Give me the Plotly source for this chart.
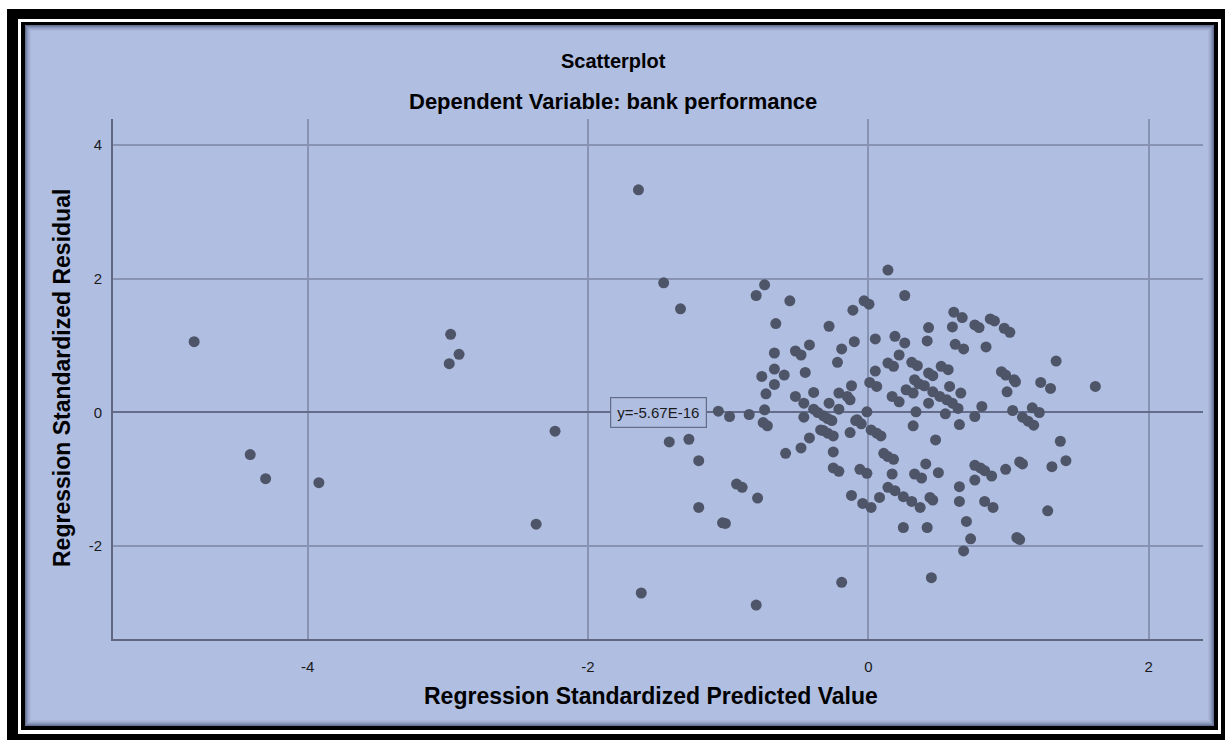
import plotly.graph_objects as go

# Regression diagnostics: standardized predicted value vs standardized residual
pred_values = [
    -4.81, -4.41, -4.30, -3.92, -2.98, -2.99, -2.92, -2.235, -2.37,
    -1.64, -1.46, -1.34, -0.74, -0.80, -0.56, -0.66, -0.42, -0.67, -0.52,
    -0.48, -0.67, -0.60, -0.76, -0.45, -0.67, -0.73, -0.52, -0.39, -0.46,
    -1.07, -0.99, -0.85, -0.74, -0.46, -0.75, -0.72, -1.42, -1.28,
    -1.21, -0.94, -0.90, -0.79, -1.21, -1.04, -1.02, -0.59, -0.48, -0.42,
    -1.62, -0.80, -0.34,
    0.97, 1.01, 1.34, 0.95, 0.98, 1.04, 1.05, 0.99, 1.23, 1.30, 1.62,
    1.03, 1.17, 1.22, 1.10, 1.14, 1.18, 1.37, 1.41, 1.31, 1.08, 1.10,
    0.98, 1.28, 1.06, 1.08,
    0.14, 0.26, -0.03, 0.005, -0.11, -0.28, -0.19, -0.10, -0.22, 0.05,
    0.19, 0.26, 0.22, 0.14, 0.18, 0.05, 0.31, 0.35, 0.43, 0.42, 0.61,
    0.67, 0.60, 0.76, 0.79, 0.87, 0.90, 0.62, 0.68, 0.84, 0.52, 0.57,
    0.43, 0.46, 0.33, 0.36, 0.40, 0.58, 0.66, 0.46, 0.51, 0.56, 0.60,
    0.64, 0.27, 0.32, 0.43, 0.17, 0.22, 0.01, 0.06, -0.12, -0.21, -0.15,
    -0.13, -0.28, -0.21, -0.01, -0.08, 0.34, 0.55, 0.76, 0.81,
    -0.39, -0.36, -0.32, -0.29, -0.26, -0.32, -0.29, -0.25, -0.13, -0.09,
    -0.05, -0.25, -0.25, -0.21, -0.06, -0.01, -0.12, -0.04, 0.02, -0.19,
    0.02, 0.06, 0.09, 0.11, 0.14, 0.18, 0.17, 0.08, 0.14, 0.19, 0.25,
    0.31, 0.37, 0.25, 0.42, 0.45, 0.32, 0.65, 0.48, 0.41, 0.33, 0.38,
    0.50, 0.44, 0.46, 0.65, 0.65, 0.70, 0.73, 0.68, 0.76, 0.76, 0.80,
    0.83, 0.88, 0.83, 0.89,
]

resid_values = [
    1.06, -0.63, -0.99, -1.05, 1.17, 0.73, 0.87, -0.28, -1.67,
    3.33, 1.94, 1.55, 1.91, 1.75, 1.67, 1.33, 1.01, 0.89, 0.92,
    0.86, 0.65, 0.56, 0.54, 0.60, 0.42, 0.28, 0.24, 0.30, 0.14,
    0.02, -0.06, -0.03, 0.04, -0.07, -0.15, -0.20, -0.44, -0.40,
    -0.72, -1.07, -1.12, -1.28, -1.42, -1.65, -1.66, -0.61, -0.53, -0.38,
    -2.70, -2.88, -0.26,
    1.26, 1.20, 0.77, 0.61, 0.56, 0.49, 0.46, 0.31, 0.45, 0.36, 0.39,
    0.03, 0.07, 0.00, -0.07, -0.13, -0.19, -0.43, -0.72, -0.81, -0.74, -0.77,
    -0.85, -1.47, -1.87, -1.90,
    2.13, 1.75, 1.67, 1.62, 1.53, 1.29, 0.95, 1.06, 0.75, 1.10,
    1.14, 1.04, 0.86, 0.74, 0.69, 0.62, 0.75, 0.70, 1.27, 1.07, 1.50,
    1.42, 1.28, 1.31, 1.27, 1.40, 1.37, 1.02, 0.95, 0.98, 0.69, 0.64,
    0.59, 0.55, 0.49, 0.43, 0.40, 0.39, 0.29, 0.31, 0.24, 0.19, 0.14,
    0.06, 0.34, 0.29, 0.14, 0.24, 0.16, 0.45, 0.39, 0.40, 0.29, 0.24,
    0.19, 0.14, 0.05, 0.01, -0.11, 0.01, -0.02, -0.06, 0.09,
    0.05, 0.00, -0.05, -0.09, -0.12, -0.27, -0.31, -0.35, -0.30, -0.12,
    -0.17, -0.59, -0.83, -0.88, -0.85, -0.91, -1.24, -1.36, -1.42, -2.54,
    -0.26, -0.31, -0.35, -0.61, -0.66, -0.70, -0.92, -1.27, -1.12, -1.17, -1.26,
    -1.33, -1.42, -1.72, -1.72, -2.47, -0.20, -0.18, -0.41, -0.77, -0.92, -0.98,
    -0.90, -1.27, -1.31, -1.11, -1.33, -1.63, -1.89, -2.07, -1.01, -0.79, -0.83,
    -0.87, -0.95, -1.33, -1.42,
]

x_ticks = [-4, -2, 0, 2]
x_tick_labels = ["-4", "-2", "0", "2"]
y_ticks = [-2, 0, 2, 4]
y_tick_labels = ["-2", "0", "2", "4"]
mean_line_label = "y=-5.67E-16"

W, H = 1225, 741
ML, MR, MT, MB = 113, 22, 119, 102
PW, PH = W - ML - MR, H - MT - MB

BG = "rgb(176,190,226)"
GRID = "rgb(136,146,178)"
DOT = "#4f5568"
FONT = "Liberation Sans, Arial, sans-serif"


def px(x):
    return (x - ML) / PW


def py(y):
    return (H - MB - y) / PH


def box(x0, y0, x1, y1, **kw):
    return dict(type="rect", xref="paper", yref="paper", layer="below",
                x0=px(x0), x1=px(x1), y0=py(y1), y1=py(y0), **kw)


shapes = [
    box(7, 9, 1225, 740, fillcolor="black", line_width=0),
    box(18, 19, 1221, 734, fillcolor="white", line_width=0),
    box(21, 22, 1218, 730, fillcolor="black", line_width=0),
    box(25, 25, 1214, 726, fillcolor=BG, line_width=0),
]
# soft inner shadow along the panel edge
for i, a in enumerate([0.55, 0.4, 0.28, 0.18, 0.1, 0.05]):
    shapes.append(box(25.5 + i, 25.5 + i, 1213.5 - i, 725.5 - i,
                      fillcolor="rgba(0,0,0,0)",
                      line=dict(color=f"rgba(40,48,80,{a})", width=1)))

fig = go.Figure()
fig.add_trace(go.Scatter(
    x=pred_values, y=resid_values, mode="markers",
    marker=dict(size=11, color=DOT, line_width=0),
    hoverinfo="skip", showlegend=False,
))

annotations = [
    dict(text="<b>Scatterplot</b>", x=px(613), y=py(61),
         font=dict(size=20, family=FONT, color="black")),
    dict(text="<b>Dependent Variable: bank performance</b>", x=px(613), y=py(102),
         font=dict(size=22, family=FONT, color="black")),
    dict(text="<b>Regression Standardized Predicted Value</b>", x=px(651), y=py(696),
         font=dict(size=23, family=FONT, color="black")),
    dict(text="<b>Regression Standardized Residual</b>", x=px(62), y=py(378), textangle=-90,
         font=dict(size=23, family=FONT, color="black")),
]
for a in annotations:
    a.update(xref="paper", yref="paper", showarrow=False, xanchor="center", yanchor="middle")

annotations.append(dict(
    text=mean_line_label, x=-1.5, y=0, xref="x", yref="y", showarrow=False,
    xanchor="center", yanchor="middle", bgcolor=BG, bordercolor="rgb(100,108,135)",
    borderwidth=1.2, borderpad=6, font=dict(size=15, family=FONT, color="#1a1a1a"),
))

fig.update_layout(
    width=W, height=H,
    margin=dict(l=ML, r=MR, t=MT, b=MB, pad=0),
    paper_bgcolor="white", plot_bgcolor="rgba(0,0,0,0)",
    shapes=shapes, annotations=annotations,
    font=dict(family=FONT, size=15, color="#1a1a1a"),
    xaxis=dict(range=[-5.389, 2.388], tickvals=x_ticks, ticktext=x_tick_labels,
               showgrid=True, gridcolor=GRID, gridwidth=1.5, zeroline=False,
               showline=True, linecolor="rgb(95,102,125)", linewidth=2, ticks="",
               ticklabelstandoff=13, fixedrange=True),
    yaxis=dict(range=[-3.388, 4.390], tickvals=y_ticks, ticktext=y_tick_labels,
               showgrid=True, gridcolor=GRID, gridwidth=1.5, zeroline=True,
               zerolinecolor="rgb(100,108,138)", zerolinewidth=2,
               showline=True, linecolor="rgb(95,102,125)", linewidth=2, ticks="",
               ticklabelstandoff=6, fixedrange=True),
)

fig.write_html("out.html")
